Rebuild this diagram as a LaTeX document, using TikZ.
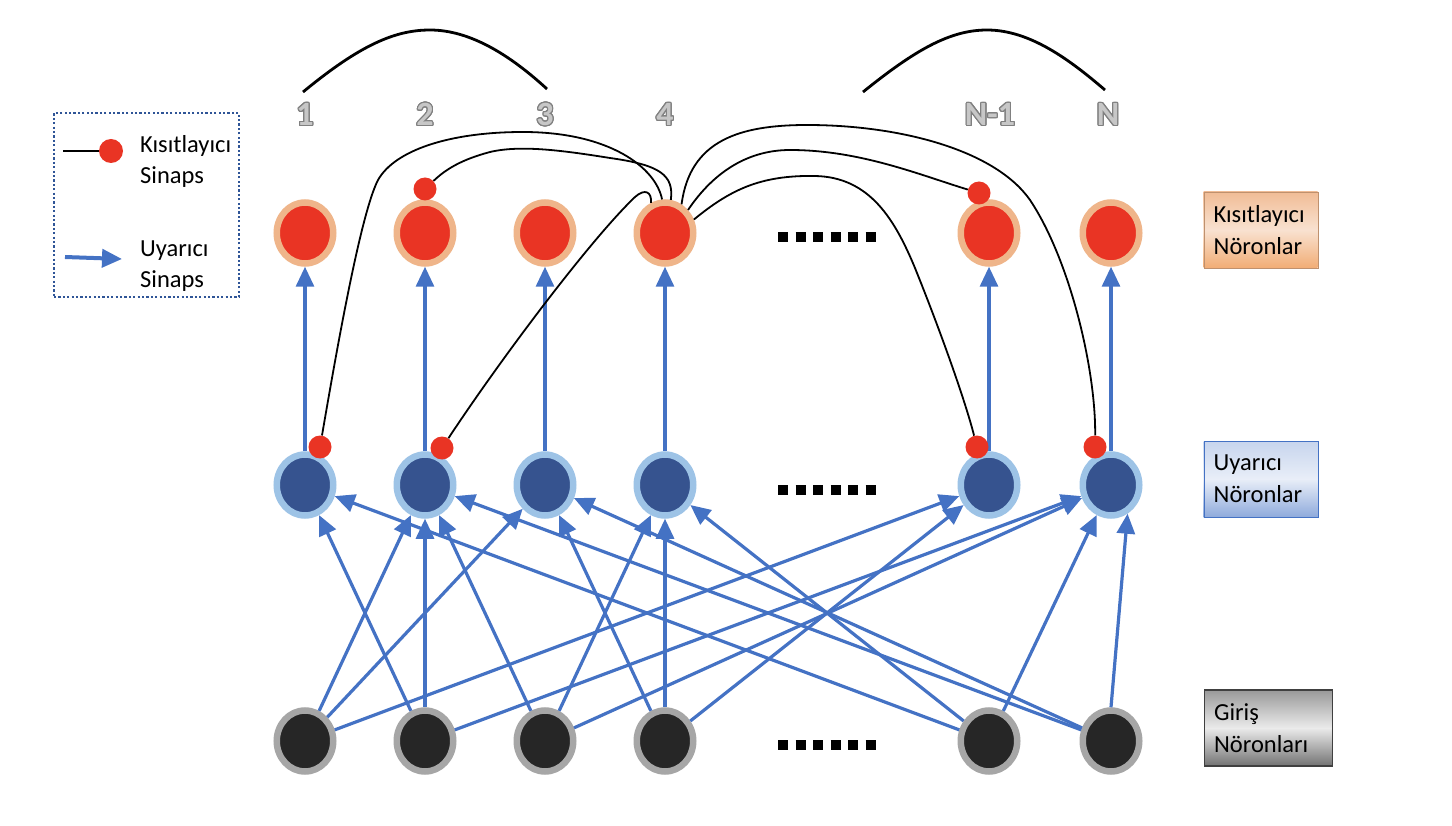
\documentclass[tikz,border=0pt]{standalone}
\usepackage{fontspec}
\setmainfont{Carlito}
\usepackage{tikz}
\usetikzlibrary{shapes.geometric,positioning,arrows.meta}
\usepackage{xcolor}
\usepackage{contour}
\contourlength{1.1pt}
\contournumber{24}

\definecolor{inhcore}{HTML}{E93424}
\definecolor{inhring}{HTML}{EFB58A}
\definecolor{exccore}{HTML}{36538F}
\definecolor{excring}{HTML}{9DC3E6}
\definecolor{inpcore}{HTML}{262626}
\definecolor{inpring}{HTML}{A6A6A6}
\definecolor{synblue}{HTML}{4472C4}
\definecolor{legframe}{HTML}{2F5597}

\begin{document}
\begin{tikzpicture}[x=1pt,y=-1pt]
    \tikzstyle{neuron} = [ellipse,minimum width=56.5pt,minimum height=61pt,inner sep=0pt,outer sep=3.25pt,line width=6.5pt]
    \tikzstyle{inh} = [neuron,draw=inhring,fill=inhcore]
    \tikzstyle{exc} = [neuron,draw=excring,fill=exccore]
    \tikzstyle{inp} = [neuron,draw=inpring,fill=inpcore]
    \tikzstyle{syn} = [circle,fill=inhcore,minimum size=23pt,inner sep=0pt]
    \tikzstyle{exci} = [draw=synblue,line width=3.2pt,-{Triangle[length=20pt,width=18pt]}]
    \tikzstyle{inhib} = [draw=black,line width=1.8pt]
    \tikzstyle{ellip} = [line width=10pt,dash pattern=on 10pt off 7.5pt]
    \tikzstyle{num} = [font=\fontsize{34}{34}\selectfont\bfseries]
    \tikzstyle{mytext} = [font=\fontsize{24.5}{31}\selectfont,align=left,inner sep=0pt]
    \tikzstyle{labelbox} = [rectangle,mytext,font=\fontsize{24.5}{32}\selectfont,text width=94pt,inner xsep=10pt,inner ysep=0pt,minimum height=76pt]
    \useasboundingbox (0,0) rectangle (1452,826);

    % numbers and neighbourhood arcs
    \node[num] (n1) at (305,115) {\contour{black!50}{\textcolor{black!22}{1}}};
    \node[num] (n2) at (425,115) {\contour{black!50}{\textcolor{black!22}{2}}};
    \node[num] (n3) at (545,115) {\contour{black!50}{\textcolor{black!22}{3}}};
    \node[num] (n4) at (665,115) {\contour{black!50}{\textcolor{black!22}{4}}};
    \node[num] (n5) at (990,115) {\contour{black!50}{\textcolor{black!22}{N-1}}};
    \node[num] (n6) at (1108,115) {\contour{black!50}{\textcolor{black!22}{N}}};
    \draw[line width=2.8pt] (303,92) .. controls (360,45) and (395,30) .. (430,30) .. controls (470,30) and (510,55) .. (547,89);
    \draw[line width=2.8pt] (863,92) .. controls (915,50) and (950,30) .. (987,30) .. controls (1030,30) and (1070,60) .. (1105,90);

    % neurons
    \node[inh] (inh1) at (305,233) {};
    \node[inh] (inh2) at (425,233) {};
    \node[inh] (inh3) at (545,233) {};
    \node[inh] (inh4) at (665,233) {};
    \node[inh] (inh5) at (989,233) {};
    \node[inh] (inh6) at (1111,233) {};
    \node[exc] (exc1) at (305,485) {};
    \node[exc] (exc2) at (425,485) {};
    \node[exc] (exc3) at (545,485) {};
    \node[exc] (exc4) at (665,485) {};
    \node[exc] (exc5) at (989,485) {};
    \node[exc] (exc6) at (1111,485) {};
    \node[inp] (inp1) at (305,741) {};
    \node[inp] (inp2) at (425,741) {};
    \node[inp] (inp3) at (545,741) {};
    \node[inp] (inp4) at (665,741) {};
    \node[inp] (inp5) at (989,741) {};
    \node[inp] (inp6) at (1111,741) {};
    \draw[ellip] (778,237) -- (875.5,237);
    \draw[ellip] (778,490) -- (875.5,490);
    \draw[ellip] (778,745) -- (875.5,745);

    % excitatory synapses
    \draw[exci] (exc1) -- (inh1);
    \draw[exci] (exc2) -- (inh2);
    \draw[exci] (exc3) -- (inh3);
    \draw[exci] (exc4) -- (inh4);
    \draw[exci] (exc5) -- (inh5);
    \draw[exci] (exc6) -- (inh6);
    \draw[exci] (inp1) -- (exc2);
    \draw[exci] (inp1) -- (exc3);
    \draw[exci] (inp1) -- (exc5);
    \draw[exci] (inp2) -- (exc1);
    \draw[exci] (inp2) -- (exc2);
    \draw[exci] (inp2) -- (exc6);
    \draw[exci] (inp3) -- (exc2);
    \draw[exci] (inp3) -- (exc4);
    \draw[exci] (inp3) -- (exc6);
    \draw[exci] (inp4) -- (exc3);
    \draw[exci] (inp4) -- (exc4);
    \draw[exci] (inp4) -- (exc5);
    \draw[exci] (inp5) -- (exc1);
    \draw[exci] (inp5) -- (exc4);
    \draw[exci] (inp5) -- (exc6);
    \draw[exci] (inp6) -- (exc2);
    \draw[exci] (inp6) -- (exc3);
    \draw[exci] (inp6.north) -- (exc6.-60);

    % inhibitory synapses from neuron 4
    \node[syn] (s1) at (320,447) {};
    \node[syn] (s2) at (425,189) {};
    \node[syn] (s3) at (442,448) {};
    \node[syn] (s4) at (979,193) {};
    \node[syn] (s5) at (977,447) {};
    \node[syn] (s6) at (1095,447) {};
    \draw[inhib] (inh4.95) .. controls (656,168) and (610,132) .. (523,132) .. controls (450,132) and (395,150) .. (378,180) .. controls (360,215) and (335,360) .. (s1);
    \draw[inhib] (inh4.80) .. controls (674,175) and (660,165) .. (610,158) .. controls (560,150) and (520,145) .. (490,152) .. controls (460,160) and (445,170) .. (s2);
    \draw[inhib] (inh4.115) .. controls (652,192) and (645,188) .. (635,197) .. controls (590,240) and (500,360) .. (s3);
    \draw[inhib] (inh4.45) .. controls (715,170) and (750,150) .. (790,150) .. controls (860,150) and (920,175) .. (s4);
    \draw[inhib] (inh4.25) .. controls (730,190) and (760,175) .. (815,176) .. controls (870,177) and (895,220) .. (915,268) .. controls (940,330) and (965,400) .. (s5);
    \draw[inhib] (inh4.60) .. controls (690,140) and (740,125) .. (807,125) .. controls (900,125) and (995,150) .. (1030,200) .. controls (1070,260) and (1096,370) .. (s6);

    % legend
    \node[draw=legframe,line width=2.2pt,dash pattern=on 2.2pt off 2.2pt,minimum width=185pt,minimum height=184pt] (legend) at (146.5,205) {};
    \coordinate (l1) at (63,151);
    \node[syn,minimum size=24pt] (ldot) at (111,151) {};
    \draw[inhib,line width=2.8pt] (l1) -- (ldot);
    \coordinate (l2) at (65,257);
    \coordinate (l3) at (122,259);
    \draw[exci,line width=4pt] (l2) -- (l3);
    \node[mytext,anchor=west] (leg1) at (140,161) {Kısıtlayıcı\\Sinaps};
    \node[mytext,anchor=west] (leg2) at (140,266) {Uyarıcı\\Sinaps};

    % layer labels
    \node[labelbox,top color=inhring!90,bottom color=inhring!85!orange,middle color=inhring!40,draw=inhring!80!black,line width=0.4pt] (inhlab) [right=61pt of inh6, yshift=3pt] {Kısıtlayıcı\\Nöronlar};
    \node[labelbox,top color=synblue!30,bottom color=synblue!60,middle color=synblue!12,draw=synblue,line width=0.4pt] (exclab) [right=61pt of exc6, yshift=6pt] {Uyarıcı\\Nöronlar};
    \node[labelbox,text width=108pt,top color=black!40,bottom color=black!55,middle color=black!8,draw=black!75,line width=1.2pt] (inplab) [right=61pt of inp6, yshift=13pt] {Giriş\\Nöronları};
\end{tikzpicture}
\end{document}
